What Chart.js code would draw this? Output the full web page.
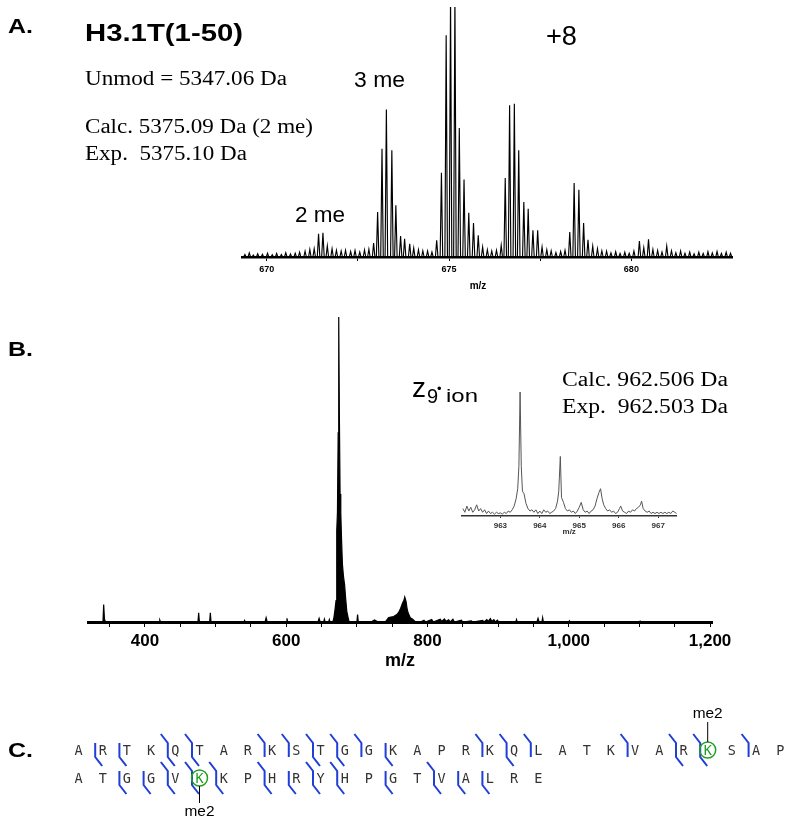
<!DOCTYPE html>
<html><head><meta charset="utf-8">
<script src="https://cdn.jsdelivr.net/npm/chart.js@4.4.1/dist/chart.umd.min.js"></script>
<style>
html,body{margin:0;padding:0;background:#fff;}
#page{position:relative;width:793px;height:826px;overflow:hidden;background:#fff;}
canvas{position:absolute;}
#overlay{position:absolute;left:0;top:0;}
</style></head><body>
<div id="page">
<canvas id="cA" width="530" height="292" style="left:222px;top:0px;width:530px;height:292px"></canvas>
<canvas id="cB" width="680" height="380" style="left:60px;top:300px;width:680px;height:380px"></canvas>
<canvas id="cI" width="260" height="153" style="left:440px;top:385px;width:260px;height:153px"></canvas>
<svg id="overlay" width="793" height="826" xmlns="http://www.w3.org/2000/svg"></svg>
</div>
<script>
// ---------------- DATA ----------------
// Panel A: isotopic peaks of the 8+ charge state [m/z, relative intensity]
const A_PEAKS = [
 [671.30,3.3],[671.42,9.3],[671.54,9.7],[671.66,4.4],[671.79,3.3],[671.91,2.7],[672.04,2.4],[672.16,2.7],
 [672.93,5.6],[673.04,18],[673.16,43.3],[673.28,59],[673.43,42.7],[673.54,20.7],[673.67,8.4],[673.78,7.3],[673.92,5.3],[674.03,3.6],[674.16,2.9],[674.28,2.5],[674.41,2.4],[674.53,2.0],
 [674.66,6.7],[674.79,33.7],[674.92,88.7],[675.04,104],[675.16,104],[675.28,51.6],[675.41,31],[675.54,17.7],[675.67,13.6],[675.80,8.7],[675.92,4],[676.05,2.9],[676.17,2.4],[676.30,2.7],
 [676.43,4.7],[676.54,31.6],[676.66,60.7],[676.79,61.3],[676.91,42.7],[677.05,22],[677.17,19.3],[677.30,10.7],[677.43,10.7],[677.55,4],[677.68,2.9],[677.80,2.5],
 [678.18,2.7],[678.31,10],[678.43,29.6],[678.56,26.9],[678.69,13.6],[678.81,6.9],[678.94,4.3],[679.07,3.3],[679.19,2.5],
 [680.22,6.4],[680.34,3.7],[680.47,7.1],[680.59,3],[680.97,4.3],[681.10,2.5]
];
const A_NOISE = [
 [669.40,1.0],[669.52,1.6],[669.63,0.8],[669.75,1.3],[669.88,1.1],[670.02,1.5],[670.15,0.9],[670.27,1.4],[670.40,1.0],[670.52,1.7],
 [670.65,1.2],[670.78,1.5],[670.90,1.9],[671.05,2.3],[671.18,3.0],[672.30,2.2],[672.42,2.6],[672.55,2.0],[672.68,2.8],[672.80,3.1],
 [677.93,1.8],[678.06,2.2],[679.32,2.3],[679.44,1.6],[679.57,2.1],[679.69,1.4],[679.82,1.9],[679.94,1.5],[680.07,2.4],[680.72,2.6],
 [680.84,2.0],[681.22,1.7],[681.35,2.4],[681.47,1.5],[681.60,2.0],[681.72,1.3],[681.85,1.9],[681.97,1.4],[682.10,2.1],[682.22,1.6],
 [682.35,2.2],[682.47,1.4],[682.60,1.9],[682.72,1.5]
];
const A_TICKS = [670, 672.5, 675, 677.5, 680];
const A_LABELED = [670, 675, 680];

// Panel B: full ETD spectrum profile [m/z, relative intensity]
const B_PROFILE = [
 [319.3,0],[340.5,0],[341.5,5.7],[342.6,1.0],[344,0],
 [420,0],[421,0.6],[422,0],
 [475,0],[476,3.0],[477,0],[491.5,0],[492.5,3.0],[493.5,0],
 [540,0],[541,0.5],[542,0],
 [570,0],[571.5,1.4],[573,0],[600,0],[601,1.2],[602,0],
 [645,0],[646.5,1.2],[648,0],[653,0],[654,0.9],[655,0],[660,0],[661,0.8],[662,0],
 [666,0],[667.5,1.5],[669,4],[670.5,7],[671.5,30],[672.5,36],[673.5,62],[674.3,100],[675.2,68],[676.2,42],[677.2,36],[678.3,27],[679.5,19],[681,15],[682.7,12],[684,8],[685.7,3.5],[687.5,1.5],[689,0],
 [700,0],[701,2.4],[702,0],
 [720,0],[725,0.7],[730,0],[740,0],[745,1.5],[752,1.8],[757,2.5],[760,3.5],[762,4.5],[764.7,6.2],[766.5,7],[767.8,8.2],[769.6,6.8],[771,4.5],[772.5,3],[775.6,1.4],[779,0.9],[783,0],
 [790,0],[795,0.6],[797,0],[806,0.8],[808,0],[818,0.9],[820,0.2],[824,1.0],[826,0.2],[830,0.7],[832,0],[836,0.9],[838,0],[848,0.6],[850,0],[862,0.4],[864,0],
 [878,0.5],[880,0],[884,0.8],[886,0.2],[889,1.1],[891,0.2],[894,0.8],[896,0],[899,0.6],[901,0],
 [925,0],[926,0.8],[927,0],[955,0],[956.5,1.2],[958,0],[962,0],[963,1.4],[964,0],
 [1000,0],[1001,0.4],[1002,0],[1100,0],[1101,0.3],[1102,0],[1202.8,0]
];
const B_TICKS = [350,400,450,500,550,600,650,700,750,800,850,900,950,1000,1050,1100,1150,1200];
const B_LABELED = [400,600,800,1000,1200];

// Inset: z9 ion isotopic profile [m/z, relative intensity]
const I_PROFILE = [
 [962.05,6],[962.10,3],[962.15,8],[962.20,4],[962.25,7],[962.30,3],[962.35,5],[962.40,9],[962.45,4],[962.50,6],
 [962.55,3],[962.60,5],[962.65,2],[962.70,4],[962.75,2],[962.80,3],[962.85,1.5],[962.90,3],[962.95,2],[963.00,2.5],
 [963.05,1.5],[963.10,3],[963.15,2],[963.20,4],[963.25,3],[963.30,5],[963.35,8],[963.40,14],[963.44,22],[963.47,40],
 [963.50,100],[963.53,40],[963.56,20],[963.60,18],[963.65,10],[963.70,6],[963.75,4],[963.80,5],[963.85,3],[963.90,5],
 [963.95,2],[964.00,4],[964.05,2],[964.10,5],[964.15,3],[964.20,4],[964.25,2],[964.30,3],[964.35,4],[964.40,6],
 [964.45,12],[964.48,20],[964.52,48],[964.55,15],[964.60,11],[964.65,6],[964.70,4],[964.75,5],[964.80,3],[964.85,4],
 [964.90,2],[964.95,4],[965.00,7],[965.05,11],[965.10,5],[965.15,3],[965.20,4],[965.25,2],[965.30,4],[965.35,5],
 [965.40,8],[965.45,14],[965.50,19],[965.54,22],[965.58,14],[965.62,9],[965.67,6],[965.72,4],[965.77,5],[965.82,3],
 [965.87,4],[965.92,2],[965.97,3],[966.02,6],[966.05,8],[966.10,4],[966.15,3],[966.20,2],[966.25,4],[966.30,3],
 [966.35,5],[966.40,4],[966.45,6],[966.50,7],[966.55,9],[966.58,12],[966.62,6],[966.67,4],[966.72,3],[966.77,4],
 [966.82,2],[966.87,3],[966.92,2],[966.97,3],[967.02,2],[967.07,3],[967.12,2],[967.17,3],[967.22,2],[967.27,3],
 [967.32,2],[967.37,4],[967.42,3],[967.47,2]
];
const I_TICKS = [963, 964, 965, 966, 967];

// Panel C: sequence and fragment (c / z) cleavage sites (after residue index)
const SEQ_ROW1 = 'ARTKQTARKSTGGKAPRKQLATKVARKSAP';
const SEQ_ROW2 = 'ATGGVKKPHRYHPGTVALRE';
const CUTS_ROW1 = [[0,'c'],[1,'c'],[3,'cz'],[4,'cz'],[7,'z'],[8,'z'],[9,'cz'],[10,'cz'],[11,'z'],[12,'c'],[16,'z'],[17,'cz'],[18,'z'],[22,'z'],[24,'cz'],[25,'cz'],[27,'z']];
const CUTS_ROW2 = [[1,'c'],[2,'c'],[3,'cz'],[4,'cz'],[5,'cz'],[7,'cz'],[8,'c'],[9,'cz'],[10,'cz'],[12,'c'],[14,'cz'],[15,'c'],[16,'c']];
const MODS = [[0,26,'me2'],[1,5,'me2']];

// ---------------- CHARTS ----------------
const SANS = 'Liberation Sans, Arial, sans-serif';
const SERIF = 'Liberation Serif, Times New Roman, serif';

function stickProfile(peaks, hw){
  const pts = [];
  peaks.slice().sort((a,b)=>a[0]-b[0]).forEach(([m,h])=>{
    pts.push({x:m-hw,y:0},{x:m,y:h},{x:m+hw,y:0});
  });
  return pts;
}
function toXY(arr){ return arr.map(([x,y])=>({x,y})); }
function fmt(v){ return v.toLocaleString('en-US'); }

function xAxis(o){
  return {
    type:'linear', position:'bottom', min:o.min, max:o.max,
    border:{display:true,color:o.axisColor,width:o.axisWidth},
    grid:{display:true,drawOnChartArea:false,drawTicks:true,tickLength:o.tickLength,color:o.axisColor,lineWidth:1},
    ticks:{autoSkip:false,maxRotation:0,minRotation:0,padding:o.pad,color:o.labelColor,
      font:{family:SANS,size:o.fontSize,weight:'bold'},
      callback:(v)=> o.labeled.includes(v) ? fmt(v) : ''},
    afterBuildTicks:(s)=>{ s.ticks = o.ticks.map(v=>({value:v})); },
    afterFit:(s)=>{ s.height = o.height; },
    title: o.title ? {display:true,text:o.title,color:o.labelColor,font:{family:SANS,size:o.titleSize,weight:'bold'},padding:{top:0,bottom:o.titlePad}} : {display:false}
  };
}
const baseOpts = (pad)=>({
  responsive:false, animation:false, devicePixelRatio:1,
  layout:{padding:pad},
  plugins:{legend:{display:false},tooltip:{enabled:false}},
  elements:{point:{radius:0}},
});

// Panel A
new Chart(document.getElementById('cA'), {
  type:'scatter',
  data:{datasets:[{data:stickProfile(A_PEAKS.concat(A_NOISE),0.035),showLine:true,borderColor:'#000',borderWidth:1.15,pointRadius:0,fill:false,tension:0}]},
  options:Object.assign(baseOpts({left:20,right:20,top:7,bottom:0}),{
    scales:{
      x:xAxis({min:669.32,max:682.76,ticks:A_TICKS,labeled:A_LABELED,axisColor:'#000',axisWidth:2.5,tickLength:4,pad:3,labelColor:'#000',fontSize:9,height:35}),
      y:{display:false,min:0,max:100}
    }
  })
});

// Panel B
new Chart(document.getElementById('cB'), {
  type:'scatter',
  data:{datasets:[{data:toXY(B_PROFILE),showLine:true,borderColor:'#000',borderWidth:1.2,pointRadius:0,fill:'origin',backgroundColor:'#000',tension:0}]},
  options:Object.assign(baseOpts({left:28,right:28,top:17,bottom:0}),{
    scales:{
      x:xAxis({min:319.3,max:1202.8,ticks:B_TICKS,labeled:B_LABELED,axisColor:'#000',axisWidth:3,tickLength:5,pad:4,labelColor:'#000',fontSize:17,height:58,title:'m/z',titleSize:18,titlePad:8}),
      y:{display:false,min:0,max:100}
    }
  })
});

// Inset
new Chart(document.getElementById('cI'), {
  type:'scatter',
  data:{datasets:[{data:toXY(I_PROFILE),showLine:true,borderColor:'#555',borderWidth:1,pointRadius:0,fill:false,tension:0}]},
  options:Object.assign(baseOpts({left:21.7,right:23.3,top:7,bottom:0}),{
    scales:{
      x:xAxis({min:962.02,max:967.47,ticks:I_TICKS,labeled:I_TICKS,axisColor:'#333',axisWidth:1.5,tickLength:2,pad:3,labelColor:'#333',fontSize:8,height:22,title:'m/z',titleSize:8,titlePad:1}),
      y:{display:false,min:0,max:100}
    }
  })
});

// ---------------- ANNOTATIONS (SVG text) ----------------
const NS = 'http://www.w3.org/2000/svg';
const svg = document.getElementById('overlay');
function el(tag, attrs, text){
  const e = document.createElementNS(NS, tag);
  for (const k in attrs) e.setAttribute(k, attrs[k]);
  if (text !== undefined) e.textContent = text;
  svg.appendChild(e);
  return e;
}
function txt(x, y, s, family, size, weight, width, extra){
  const a = Object.assign({x, y, 'font-family':family, 'font-size':size, 'font-weight':weight||'normal', fill:'#000', style:'white-space:pre'}, extra||{});
  if (width){ a.textLength = width; a.lengthAdjust = 'spacingAndGlyphs'; }
  return el('text', a, s);
}
// Panel A labels
txt(8, 33, 'A.', SANS, 21, 'bold', 25);
txt(85, 41, 'H3.1T(1-50)', SANS, 23, 'bold', 158);
txt(85, 85, 'Unmod = 5347.06 Da', SERIF, 20, 'normal', 202);
txt(85, 133, 'Calc. 5375.09 Da (2 me)', SERIF, 20, 'normal', 228);
txt(85, 160, 'Exp.  5375.10 Da', SERIF, 20, 'normal', 162);
txt(546, 45, '+8', SANS, 27, 'normal', 31);
txt(354, 87, '3 me', SANS, 22, 'normal', 51);
txt(295, 222, '2 me', SANS, 22, 'normal', 50);
txt(478, 289, 'm/z', SANS, 10, 'bold', null, {'text-anchor':'middle'});
// Panel B labels
txt(8, 356, 'B.', SANS, 21, 'bold', 25);
txt(412, 397, 'z', SANS, 28, 'normal');
txt(427, 403, '9', SANS, 20, 'normal');
txt(437, 393, '•', SANS, 13, 'normal');
txt(446, 402, 'ion', SANS, 19, 'normal', 32);
txt(562, 386, 'Calc. 962.506 Da', SERIF, 20, 'normal', 166);
txt(562, 413, 'Exp.  962.503 Da', SERIF, 20, 'normal', 166);
// Panel C
txt(8, 757, 'C.', SANS, 21, 'bold', 25);

const X0 = 78.5, DX = 24.2, ROW_Y = [750, 778];
const rows = [SEQ_ROW1, SEQ_ROW2], cuts = [CUTS_ROW1, CUTS_ROW2];
const modSet = new Set(MODS.map(m=>m[0]+'-'+m[1]));
rows.forEach((seq, r)=>{
  const y = ROW_Y[r];
  seq.split('').forEach((ch, i)=>{
    const isMod = modSet.has(r+'-'+i);
    txt(X0 + i*DX, y + 5, ch, 'DejaVu Sans Mono, monospace', 13.5, 'normal', null, {'text-anchor':'middle', fill: isMod ? '#1f9a1f' : '#333'});
  });
  cuts[r].forEach(([i, type])=>{
    const bx = X0 + (i+1)*DX - 7.5;
    const pts = [];
    if (type.includes('z')) pts.push([bx-7, y-16]);
    pts.push([bx, y-7], [bx, y+7]);
    if (type.includes('c')) pts.push([bx+7, y+16]);
    el('polyline', {points: pts.map(p=>p.join(',')).join(' '), fill:'none', stroke:'#1f3fd6', 'stroke-width':2, 'stroke-linejoin':'miter'});
  });
});
MODS.forEach(([r, i, label])=>{
  const cx = X0 + i*DX, cy = ROW_Y[r];
  el('circle', {cx, cy: cy, r: 8, fill:'none', stroke:'#22a022', 'stroke-width':1.5});
  if (r === 0){
    el('line', {x1:cx, y1:cy-8, x2:cx, y2:cy-28, stroke:'#000', 'stroke-width':1});
    txt(cx, cy-32, label, SANS, 15, 'normal', 30, {'text-anchor':'middle'});
  } else {
    el('line', {x1:cx, y1:cy+8, x2:cx, y2:cy+25, stroke:'#000', 'stroke-width':1});
    txt(cx, cy+38, label, SANS, 15, 'normal', 30, {'text-anchor':'middle'});
  }
});
</script>
</body></html>
